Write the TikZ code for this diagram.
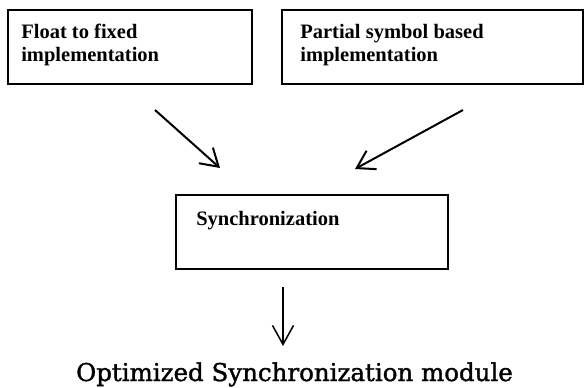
\documentclass[tikz,border=0pt]{standalone}
\usepackage{fontspec}
\setmainfont{Liberation Serif}
\newfontfamily\outfont[FakeBold=1.4]{DejaVu Serif}
\usetikzlibrary{arrows.meta}
\begin{document}
\begin{tikzpicture}[x=1pt,y=-1pt,
  blockbox/.style={draw,line width=1.8pt,inner sep=0pt},
  blocktext/.style={anchor=north west,inner sep=0pt,align=left,
    font=\fontsize{20.5}{22.5}\selectfont\bfseries},
  flow/.style={line width=2pt,-{Straight Barb[length=17pt,width=21pt,line width=2pt]}},
  flowdown/.style={line width=1.5pt,-{Straight Barb[length=19pt,width=21pt,line width=1.5pt]}}]
\useasboundingbox (0,0) rectangle (584,388);

% input blocks
\node[blockbox,minimum width=244pt,minimum height=74pt] (fix) at (130,47) {};
\node[blocktext] (fixt) at ([xshift=14pt,yshift=-15pt]fix.north west)
  {Float to fixed\\implementation};
\node[blockbox,minimum width=301pt,minimum height=74pt] (psb) at (432.5,47) {};
\node[blocktext] (psbt) at ([xshift=19pt,yshift=-15pt]psb.north west)
  {Partial symbol based\\implementation};

% synchronization block
\node[blockbox,minimum width=272pt,minimum height=74pt] (sync) at (312,232) {};
\node[blocktext] (synct) at ([xshift=21pt,yshift=-17pt]sync.north west)
  {Synchronization};

% result
\node[inner sep=0pt,anchor=base,font=\outfont\fontsize{24.5}{28}\selectfont] (out)
  at (294.5,381) {Optimized Synchronization module};

% arrows
\coordinate (a1s) at (155,110);
\coordinate (a1e) at (220,168);
\coordinate (a2s) at (463,110);
\coordinate (a2e) at (355,169);
\coordinate (a3s) at (283,287);
\coordinate (a3e) at (283,346);
\draw[flow] (a1s) -- (a1e);
\draw[flow] (a2s) -- (a2e);
\draw[flowdown] (a3s) -- (a3e);
\end{tikzpicture}
\end{document}
